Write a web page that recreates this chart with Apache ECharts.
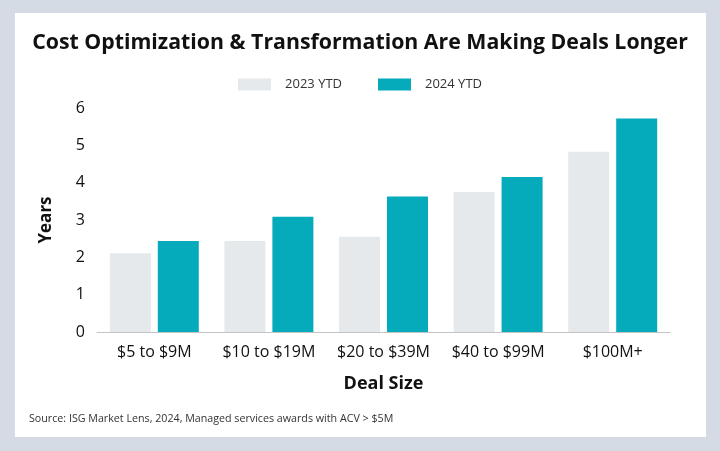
<!DOCTYPE html>
<html><head><meta charset="utf-8">
<script src="https://cdn.jsdelivr.net/npm/echarts@6/dist/echarts.min.js"></script>
<style>html,body{margin:0;padding:0;background:#d5dbe5;}#c{width:720px;height:451px;}</style>
</head><body><div id="c"></div>
<script>
const categories = ['$5 to $9M', '$10 to $19M', '$20 to $39M', '$40 to $99M', '$100M+'];
const series2023 = [2.11, 2.44, 2.55, 3.75, 4.83];
const series2024 = [2.44, 3.09, 3.63, 4.15, 5.72];
const seriesNames = ['2023 YTD', '2024 YTD'];
const yTicks = [0, 1, 2, 3, 4, 5, 6];

const FONT = '"Open Sans", "Noto Sans", sans-serif';
const chart = echarts.init(document.getElementById('c'), null, {renderer: 'canvas'});
chart.setOption({
  backgroundColor: '#d5dbe5',
  textStyle: {fontFamily: FONT},
  graphic: [
    {type: 'rect', z: -10, shape: {x: 15, y: 13, width: 691, height: 424}, style: {fill: '#ffffff'}},
    {type: 'text', left: 29, top: 413, style: {text: 'Source: ISG Market Lens, 2024, Managed services awards with ACV > $5M', font: '10.7px ' + FONT, fill: '#333'}}
  ],
  title: {
    text: 'Cost Optimization & Transformation Are Making Deals Longer',
    left: 'center', top: 27,
    textStyle: {fontFamily: FONT, fontWeight: 'bold', fontSize: 21.3, color: '#111'}
  },
  legend: {
    data: seriesNames, top: 73, left: 'center',
    itemWidth: 33, itemHeight: 12, itemGap: 36,
    textStyle: {fontFamily: FONT, fontSize: 13, color: '#333', padding: [0, 0, 0, 9]},
    icon: 'rect'
  },
  grid: {left: 97, right: 50, top: 108, bottom: 119},
  xAxis: {
    type: 'category', data: categories,
    axisLine: {lineStyle: {color: '#c4c4c4', width: 1}},
    axisTick: {show: false},
    axisLabel: {fontFamily: FONT, fontSize: 16, color: '#111', margin: 12, interval: 0, hideOverlap: false},
    name: 'Deal Size', nameLocation: 'middle', nameGap: 43,
    nameTextStyle: {fontFamily: FONT, fontWeight: 'bold', fontSize: 18, color: '#111'}
  },
  yAxis: {
    type: 'value', min: yTicks[0], max: yTicks[yTicks.length - 1], interval: 1,
    splitLine: {show: false},
    axisLine: {show: false}, axisTick: {show: false},
    axisLabel: {fontFamily: FONT, fontSize: 16, color: '#111', margin: 12},
    name: 'Years', nameLocation: 'middle', nameGap: 42, nameRotate: 90,
    nameTextStyle: {fontFamily: FONT, fontWeight: 'bold', fontSize: 17, color: '#111'}
  },
  series: [
    {name: seriesNames[0], type: 'bar', data: series2023, barWidth: 41, barGap: '17%',
     itemStyle: {color: '#e6e9ec'}},
    {name: seriesNames[1], type: 'bar', data: series2024, barWidth: 41,
     itemStyle: {color: '#05aabb'}}
  ],
  animation: false
});
</script></body></html>
